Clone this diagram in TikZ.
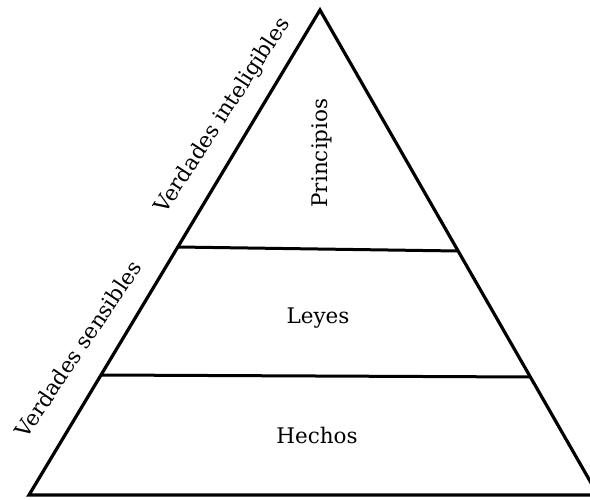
\documentclass[tikz,border=0pt]{standalone}
\usepackage{fontspec}
\setmainfont{DejaVu Serif}
\begin{document}
\begin{tikzpicture}[x=1pt,y=-1pt,
  edge/.style={line width=3.2pt,line join=miter},
  level/.style={line width=3pt},
  lab/.style={font=\fontsize{21.5}{24}\selectfont,inner sep=0pt}]
\useasboundingbox (0,0) rectangle (590,500);
\clip (0,0) rectangle (590,500);
\coordinate (apex) at (320,10);
\coordinate (bl) at (29,495);
\coordinate (br) at (598,495);
\draw[edge] (bl) -- (apex) -- (br) -- cycle;
\coordinate (l1) at (177.5,247);
\coordinate (r1) at (458,251);
\coordinate (l2) at (100.6,375);
\coordinate (r2) at (530,377);
\draw[level] (l1) -- (r1);
\draw[level] (l2) -- (r2);
\node[lab,rotate=90] (princ) at (322,153) {Principios};
\node[lab] (leyes) at (318,318) {Leyes};
\node[lab] (hechos) at (317,435) {Hechos};
\node[lab,rotate=57] (intel) at (223,116) {Verdades inteligibles};
\node[lab,rotate=56] (sens) at (78,349) {Verdades sensibles};
\end{tikzpicture}
\end{document}
